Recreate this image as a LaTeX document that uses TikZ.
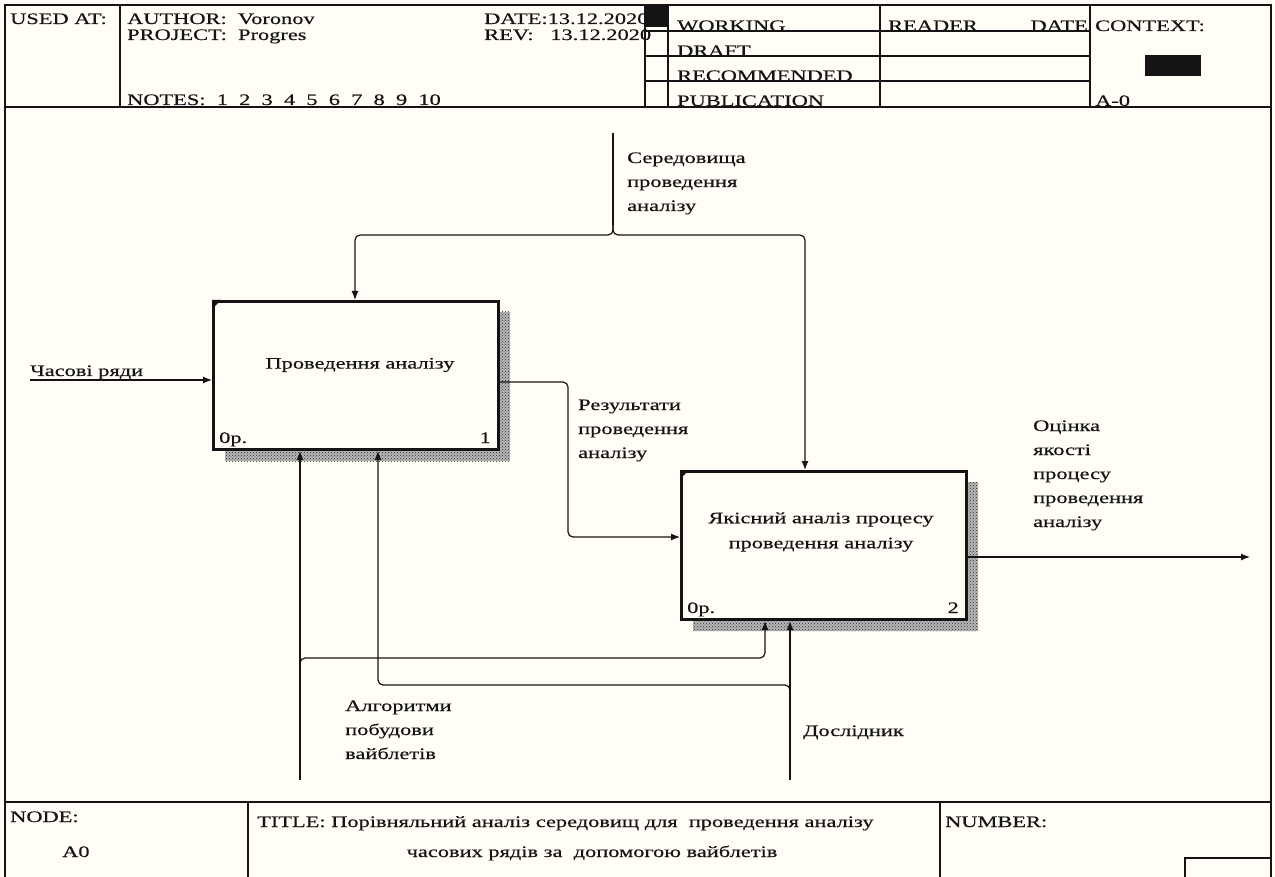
\documentclass[tikz,border=0pt]{standalone}
\usepackage{fontspec}
\setmainfont{Liberation Serif}[FakeStretch=1.4,FakeBold=0.4]
\usetikzlibrary{arrows.meta,patterns}
\definecolor{bg}{RGB}{255,253,246}
\definecolor{ink}{RGB}{20,20,20}
\begin{document}
\begin{tikzpicture}[x=1pt,y=-1pt,
  font=\fontsize{16}{24}\selectfont,
  frameline/.style={draw=ink,line width=1.3pt},
  txt/.style={anchor=base west,inner sep=0pt,text=ink},
  lbl/.style={anchor=base west,inner sep=0pt,text=ink,align=left},
  actbox/.style={draw=ink,line width=3pt,fill=bg,anchor=north west,minimum width=285pt,minimum height=148pt,inner sep=0pt,align=center},
  shadowfill/.style={fill=black!28},
  shadowbox/.style={pattern=crosshatch dots,pattern color=black!85},
  conn/.style={draw=ink,line width=1.2pt,rounded corners=5pt},
  arr/.style={conn,-{Latex[length=9pt,width=7pt]}}]
\useasboundingbox (0,0) rectangle (1275,877);
\fill[bg] (0,0) rectangle (1275,877);
% outer frame
\draw[frameline] (5,877) -- (5,5) -- (1271,5) -- (1271,877);
% header
\draw[frameline] (5,107) -- (1271,107);
\draw[frameline] (120,5) -- (120,107);
\draw[frameline] (645,5) -- (645,107);
\draw[frameline] (668,5) -- (668,107);
\draw[frameline] (880,5) -- (880,107);
\draw[frameline] (1090,5) -- (1090,107);
\draw[frameline] (645,31) -- (1090,31);
\draw[frameline] (645,56) -- (1090,56);
\draw[frameline] (645,81) -- (1090,81);
\node[txt] (usedat) at (10,24) {USED AT:};
\node[txt] (author) at (127,24) {AUTHOR:\ \ Voronov};
\node[txt] (project) at (127,40) {PROJECT:\ \ Progres};
\node[txt] (notes) at (127,105) {NOTES:\ \ 1\ \ 2\ \ 3\ \ 4\ \ 5\ \ 6\ \ 7\ \ 8\ \ 9\ \ 10};
\node[txt] (date) at (484,24) {DATE:13.12.2020};
\node[txt] (rev) at (484,40) {REV:\ \ \ 13.12.2020};
\fill[ink] (645,6) rectangle (668,27);
\node[txt] (working) at (677,31) {WORKING};
\node[txt] (draft) at (677,56) {DRAFT};
\node[txt] (recom) at (677,81) {RECOMMENDED};
\node[txt] (publ) at (677,106) {PUBLICATION};
\node[txt] (reader) at (888,31) {READER};
\node[txt,anchor=base east] (rdate) at (1088,31) {DATE};
\node[txt] (context) at (1095,31) {CONTEXT:};
\fill[ink] (1145,55) rectangle (1201,76);
\node[txt] (ctxa) at (1095,106) {A-0};
% footer
\draw[frameline] (5,802) -- (1271,802);
\draw[frameline] (248,802) -- (248,877);
\draw[frameline] (940,802) -- (940,877);
\draw[frameline] (1185,877) -- (1185,858) -- (1271,858);
\node[txt] (nodelbl) at (10,822) {NODE:};
\node[txt] (nodeval) at (62,857) {A0};
\node[txt] (title1) at (257,827) {TITLE: Порівняльний аналіз середовищ для\ \ проведення аналізу};
\node[txt,anchor=base] (title2) at (592,857) {часових рядів за\ \ допомогою вайблетів};
\node[txt] (number) at (945,827) {NUMBER:};
% activity boxes with hatched shadows
\fill[shadowfill] (225,312) rectangle (510,461);
\fill[shadowbox] (225,312) rectangle (510,461);
\fill[shadowfill] (693,482) rectangle (978,631);
\fill[shadowbox] (693,482) rectangle (978,631);
\node[actbox] (b1) at (212,300) {};
\node[actbox] (b2) at (680,470) {};
\node[txt,anchor=center] (b1t) at (360,365) {Проведення аналізу};
\node[txt,anchor=center,align=center,font=\fontsize{16}{25}\selectfont] (b2t) at (821,532) {Якісний аналіз процесу\\проведення аналізу};
\fill[ink] (b1.north west) -- ++(9,0) -- ++(-9,9) -- cycle;
\fill[ink] (b2.north west) -- ++(9,0) -- ++(-9,9) -- cycle;
\node[txt] (b1n) at (219,443) {0р.};
\node[txt,anchor=base east] (b1k) at (491,443) {1};
\node[txt] (b2n) at (687,613) {0р.};
\node[txt,anchor=base east] (b2k) at (959,613) {2};
% coordinates
\coordinate (c0) at (613,133);
\coordinate (cj) at (613,225);
\coordinate (cl) at (355,235);
\coordinate (cr) at (805,235);
\coordinate (i0) at (30,380);
\coordinate (o1) at (497,382);
\coordinate (r1) at (568,537);
\coordinate (o2) at (1250,557);
\coordinate (m1) at (300,780);
\coordinate (m1j) at (300,672);
\coordinate (m1t) at (765,658);
\coordinate (m2) at (790,780);
\coordinate (m2j) at (790,698);
\coordinate (m2t) at (378,685);
% control
\draw[conn] (c0) -- (cj);
\draw[arr] (cj) |- (cl) -- (cl |- b1.north);
\draw[arr] (cj) |- (cr) -- (cr |- b2.north);
% input
\draw[arr] (i0) -- (i0 -| b1.west);
% output of b1 to b2
\draw[arr] (o1) -| (r1) -- (r1 -| b2.west);
% output of b2
\draw[arr] (o2 -| b2.east) -- (o2);
% mechanisms
\draw[arr] (m1) -- (m1 |- b1.south);
\draw[arr] (m1j) |- (m1t) -- (m1t |- b2.south);
\draw[arr] (m2) -- (m2 |- b2.south);
\draw[arr] (m2j) |- (m2t) -- (m2t |- b1.south);
% labels (base = baseline of last line)
\node[lbl] (lctl) at (627,211) {Середовища\\проведення\\аналізу};
\node[lbl] (lin) at (30,376) {Часові ряди};
\node[lbl] (lres) at (578,458) {Результати\\проведення\\аналізу};
\node[lbl] (lout) at (1033,527) {Оцінка\\якості\\процесу\\проведення\\аналізу};
\node[lbl] (lalg) at (345,759) {Алгоритми\\побудови\\вайблетів};
\node[lbl] (ldos) at (803,736) {Дослідник};
\end{tikzpicture}
\end{document}
